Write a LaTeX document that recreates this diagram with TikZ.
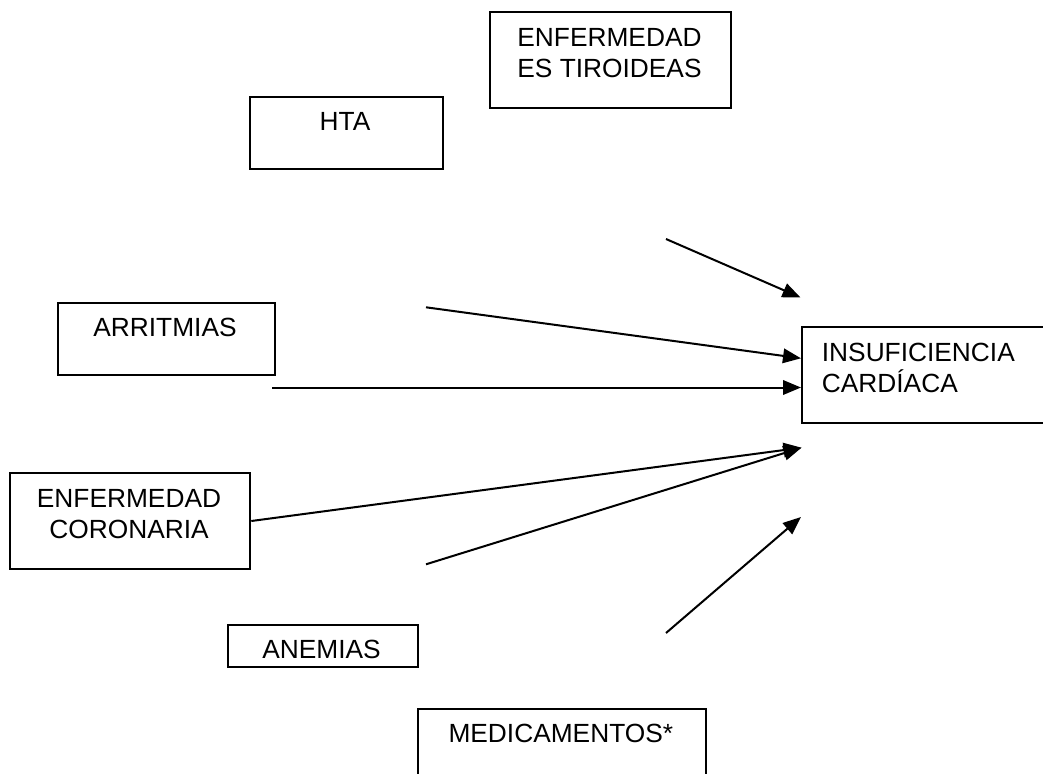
\documentclass[tikz,border=0pt]{standalone}
\usepackage{fontspec}
\setmainfont{Liberation Sans}
\usetikzlibrary{arrows.meta}
\begin{document}
\begin{tikzpicture}[x=1pt,y=-1pt,
  box/.style={draw, line width=2pt, inner sep=0pt, anchor=north west},
  lbl/.style={anchor=base, align=center, inner sep=0pt, font=\fontsize{26.3}{31}\selectfont},
  conn/.style={line width=2pt, -{Triangle[length=18pt,width=14.5pt]}}]
\useasboundingbox (0,0) rectangle (1043,773);
% boxes
\node[box, minimum width=241pt, minimum height=96pt] (tiro) at (489,11.5) {};
\node[box, minimum width=193pt, minimum height=71.5pt] (hta) at (248.5,96) {};
\node[box, minimum width=217pt, minimum height=71.7pt] (arr) at (56.5,302.3) {};
\node[box, minimum width=260pt, minimum height=95.7pt] (ic) at (800.7,326) {};
\node[box, minimum width=240.3pt, minimum height=95.4pt] (coro) at (9,472.3) {};
\node[box, minimum width=189.5pt, minimum height=42pt] (anem) at (227,624) {};
\node[box, minimum width=288.3pt, minimum height=80pt] (med) at (416.7,707.7) {};
% texts (two-line texts are anchored at the baseline of their last line)
\node[lbl] (tiroT) at (609.5,77.7) {ENFERMEDAD\\ES TIROIDEAS};
\node[lbl] (htaT) at (345,130.7) {HTA};
\node[lbl] (arrT) at (165,336) {ARRITMIAS};
\node[lbl, anchor=base west, align=left] (icT) at (821.7,392.3) {INSUFICIENCIA\\CARDÍACA};
\node[lbl] (coroT) at (129,538.3) {ENFERMEDAD\\CORONARIA};
\node[lbl] (anemT) at (321.5,658.5) {ANEMIAS};
\node[lbl] (medT) at (560.8,742.7) {MEDICAMENTOS*};
% connector ends
\coordinate (a1s) at (666,239);
\coordinate (a1e) at (800.5,297.5);
\coordinate (a2s) at (426,307.3);
\coordinate (a2e) at (801,358.3);
\coordinate (a3s) at (272.3,387.5);
\coordinate (a3e) at (801,387.5);
\coordinate (a45e) at (801.5,447.7);
\coordinate (a5s) at (426,564.3);
\coordinate (a6s) at (666,633);
\coordinate (a6e) at (801,517);
% connectors
\draw[conn] (a1s) -- (a1e);
\draw[conn] (a2s) -- (a2e);
\draw[conn] (a3s) -- (a3e);
\draw[conn] (coro.east) -- (a45e);
\draw[conn] (a5s) -- (a45e);
\draw[conn] (a6s) -- (a6e);
\end{tikzpicture}
\end{document}
